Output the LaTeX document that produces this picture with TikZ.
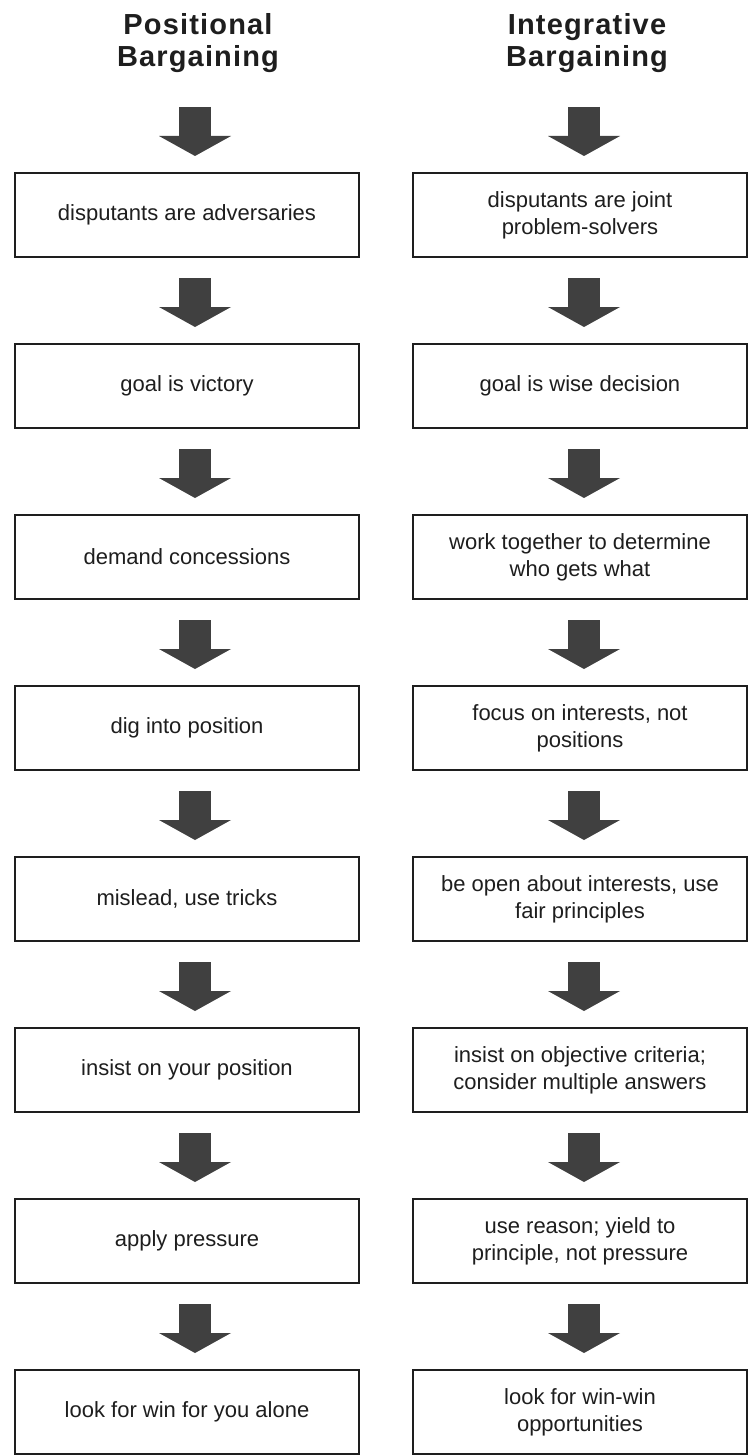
\documentclass[tikz,border=0pt]{standalone}
\usepackage{fontspec}
\setmainfont{Liberation Sans}
\newfontfamily\headfont[LetterSpace=4]{Liberation Sans Bold}
\usetikzlibrary{arrows.meta}
\definecolor{arrowc}{HTML}{404040}
\definecolor{inkc}{HTML}{1E1E1E}
\begin{document}
\begin{tikzpicture}[x=1pt,y=-1pt,
  stepbox/.style={draw=inkc, line width=2pt, inner sep=0pt, align=center,
    text=inkc, font=\fontsize{22}{27}\selectfont, minimum height=84pt},
  leftbox/.style={stepbox, minimum width=344pt},
  rightbox/.style={stepbox, minimum width=334pt},
  titletext/.style={font=\headfont\fontsize{29}{32}\selectfont, align=center,
    text=inkc, inner sep=0pt, anchor=base},
  bigarrow/.style={draw=arrowc, line width=32pt,
    -{Triangle[width=72pt,length=20pt,line width=0pt]},
    shorten <=20pt, shorten >=16pt}]
\useasboundingbox (0,0) rectangle (749,1455);
\fill[white] (0,0) rectangle (749,1455);

% titles
\node[titletext] (LT) at (198,67) {Positional\\Bargaining};
\node[titletext] (RT) at (587,67) {Integrative\\Bargaining};

% arrow axes
\coordinate (LX) at (195,0);
\coordinate (RX) at (584,0);
\coordinate (LA) at (195,107);
\coordinate (RA) at (584,107);

% left column
\node[leftbox] (L1) at (187,215)  {disputants are adversaries};
\node[leftbox] (L2) at (187,386)  {goal is victory};
\node[leftbox] (L3) at (187,557)  {demand concessions};
\node[leftbox] (L4) at (187,728)  {dig into position};
\node[leftbox] (L5) at (187,899)  {mislead, use tricks};
\node[leftbox] (L6) at (187,1070) {insist on your position};
\node[leftbox] (L7) at (187,1241) {apply pressure};
\node[leftbox] (L8) at (187,1412) {look for win for you alone};

% right column
\node[rightbox] (R1) at (580,215)  {disputants are joint\\problem-solvers};
\node[rightbox] (R2) at (580,386)  {goal is wise decision};
\node[rightbox] (R3) at (580,557)  {work together to determine\\who gets what};
\node[rightbox] (R4) at (580,728)  {focus on interests, not\\positions};
\node[rightbox] (R5) at (580,899)  {be open about interests, use\\fair principles};
\node[rightbox] (R6) at (580,1070) {insist on objective criteria;\\consider multiple answers};
\node[rightbox] (R7) at (580,1241) {use reason; yield to\\principle, not pressure};
\node[rightbox] (R8) at (580,1412) {look for win-win\\opportunities};

% arrows
\draw[bigarrow, shorten <=0pt] (LA) -- (L1.north -| LX);
\draw[bigarrow, shorten <=0pt] (RA) -- (R1.north -| RX);
\foreach \a/\b in {1/2,2/3,3/4,4/5,5/6,6/7,7/8}{
  \draw[bigarrow] (L\a.south -| LX) -- (L\b.north -| LX);
  \draw[bigarrow] (R\a.south -| RX) -- (R\b.north -| RX);
}
\end{tikzpicture}
\end{document}
